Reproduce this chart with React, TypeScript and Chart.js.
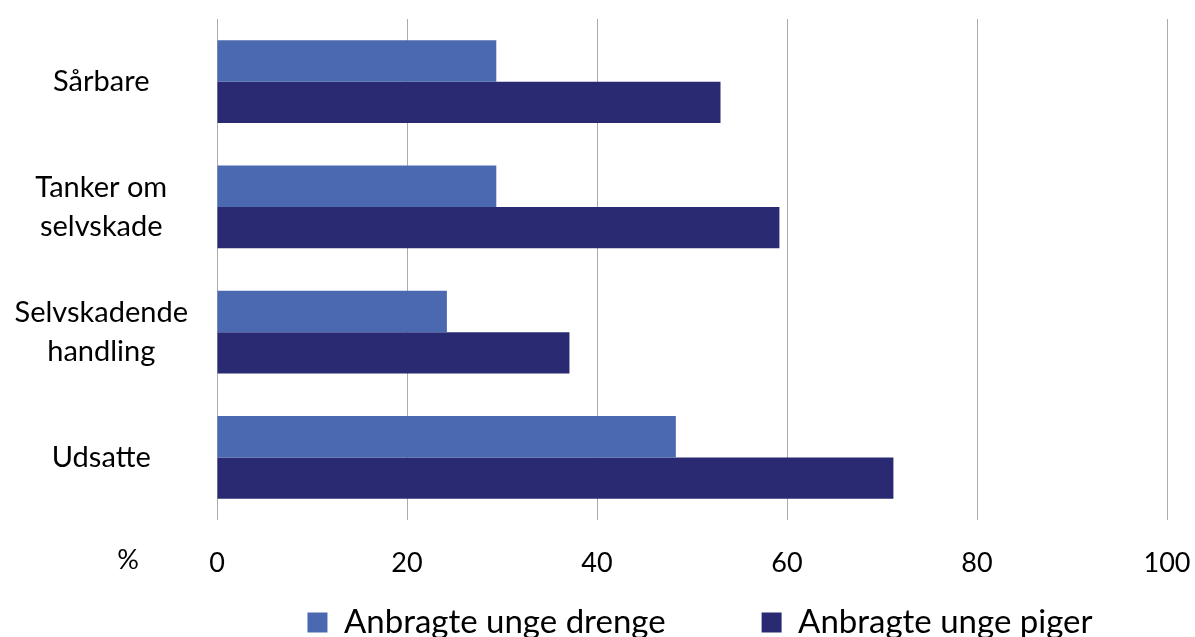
import { useEffect, useRef } from "react";
import { Chart, registerables } from "chart.js";
Chart.register(...registerables);

const categories: (string | string[])[] = ["Sårbare", ["Tanker om", "selvskade"], ["Selvskadende", "handling"], "Udsatte"];
const drenge = [29.4, 29.4, 24.2, 48.3];
const piger = [53.0, 59.2, 37.1, 71.2];
const seriesNames = ["Anbragte unge drenge", "Anbragte unge piger"];
const xMin = 0;
const xMax = 100;
const xStep = 20;
const unitLabel = "%";

const FONT = "Lato";
const Y_FS = 29;
const X_FS = 27;
const LEG_FS = 33;
const LEG_PAD = 96;
const LEG_CENTER = 700;
const LEG_ITEM_TOP = 606;

export default function App() {
  const ref = useRef<HTMLCanvasElement | null>(null);
  useEffect(() => {
    document.body.style.margin = "0";
    const helperPlugin = {
      id: "helper",
      afterLayout(chart: any) {
        const lg = chart.legend;
        if (lg) {
          lg.top = LEG_ITEM_TOP - LEG_PAD;
          lg.left = LEG_CENTER - 900;
          lg.right = LEG_CENTER + 900;
        }
      },
      afterDraw(chart: any) {
        const { ctx, scales } = chart;
        const xs = scales.x;
        ctx.save();
        ctx.font = `${X_FS}px ${FONT}`;
        ctx.fillStyle = "#000";
        ctx.textAlign = "center";
        ctx.textBaseline = "top";
        ctx.fillText(unitLabel, chart.chartArea.left - 89, xs.top + xs.options.ticks.padding);
        ctx.restore();
      },
    };
    const chart = new Chart(ref.current!, {
      type: "bar",
      data: {
        labels: categories,
        datasets: [
          { label: seriesNames[0], data: drenge, backgroundColor: "#4A69B1", borderWidth: 0 },
          { label: seriesNames[1], data: piger, backgroundColor: "#292A72", borderWidth: 0 },
        ],
      },
      options: {
        indexAxis: "y",
        animation: false,
        responsive: false,
        maintainAspectRatio: false,
        layout: { padding: { top: 19, right: 28, left: 0, bottom: 0 } },
        datasets: { bar: { categoryPercentage: 0.66, barPercentage: 1 } },
        scales: {
          x: {
            min: xMin,
            max: xMax,
            ticks: { stepSize: xStep, padding: 27, color: "#000", font: { family: FONT, size: X_FS } },
            grid: { color: "#ABABAB", lineWidth: 1, drawTicks: false },
            border: { display: false },
            afterFit: (s: any) => {
              s.height = 77;
              s.paddingLeft = 0;
              s.paddingRight = 0;
            },
          },
          y: {
            ticks: { crossAlign: "center", padding: 29, color: "#000", font: { family: FONT, size: Y_FS, lineHeight: 1.34 } },
            grid: { display: false, drawTicks: false },
            border: { display: false },
            afterFit: (s: any) => {
              s.width = 217;
              s.paddingTop = 0;
              s.paddingBottom = 0;
            },
          },
        },
        plugins: {
          tooltip: { enabled: false },
          legend: {
            position: "bottom",
            maxHeight: 40,
            labels: { color: "#000", font: { family: FONT, size: LEG_FS }, boxWidth: 20, boxHeight: 20, padding: LEG_PAD },
          },
        },
      },
      plugins: [helperPlugin],
    });
    return () => chart.destroy();
  }, []);
  return (
    <div style={{ position: "absolute", left: 0, top: 0, width: 1195, height: 637 }}>
      <canvas ref={ref} width={1195} height={637} />
    </div>
  );
}
